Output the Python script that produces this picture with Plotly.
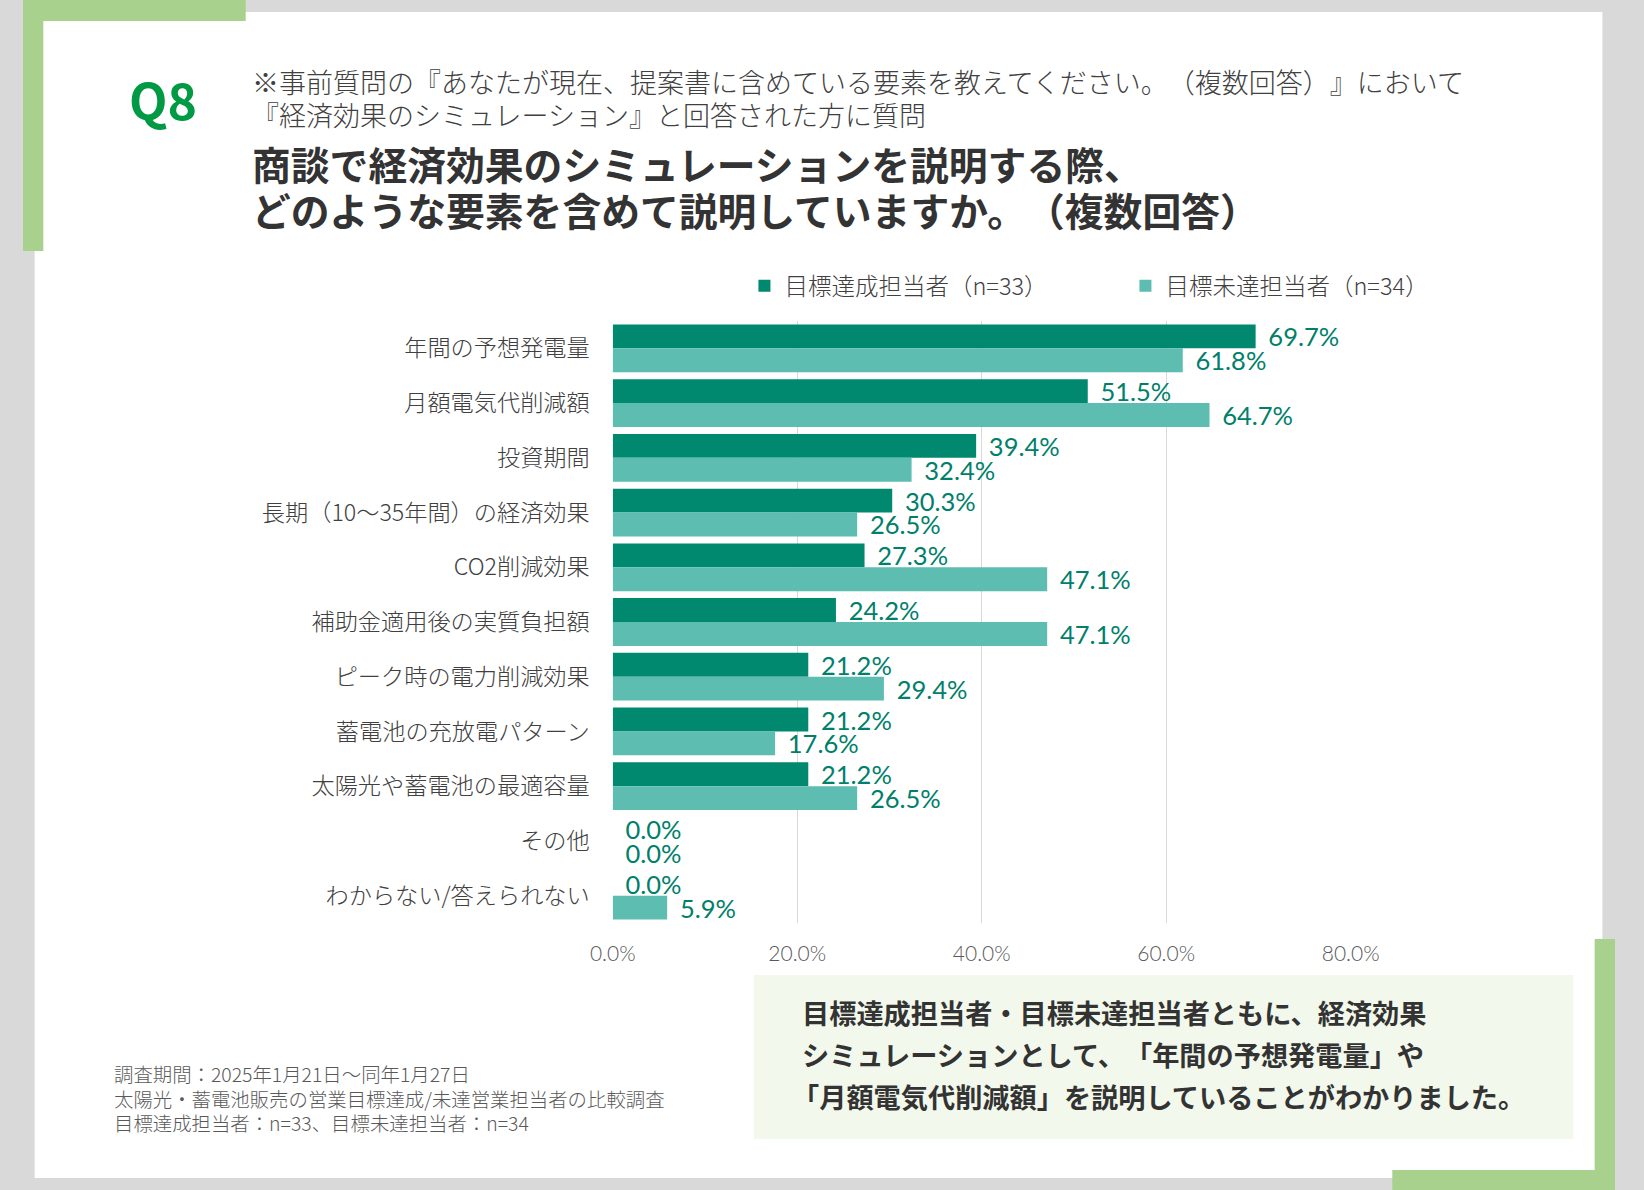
import plotly.graph_objects as go

W, H = 1644, 1190

categories = [
    "年間の予想発電量",
    "月額電気代削減額",
    "投資期間",
    "長期（10～35年間）の経済効果",
    "CO2削減効果",
    "補助金適用後の実質負担額",
    "ピーク時の電力削減効果",
    "蓄電池の充放電パターン",
    "太陽光や蓄電池の最適容量",
    "その他",
    "わからない/答えられない",
]
achieved = [69.7, 51.5, 39.4, 30.3, 27.3, 24.2, 21.2, 21.2, 21.2, 0.0, 0.0]
not_achieved = [61.8, 64.7, 32.4, 26.5, 47.1, 47.1, 29.4, 17.6, 26.5, 0.0, 5.9]
series_names = ["目標達成担当者（n=33）", "目標未達担当者（n=34）"]
tick_vals = [0, 20, 40, 60, 80]
tick_text = ["0.0%", "20.0%", "40.0%", "60.0%", "80.0%"]

title_lines = [
    "商談で経済効果のシミュレーションを説明する際、",
    "どのような要素を含めて説明していますか。（複数回答）",
]
sub_lines = [
    "※事前質問の『あなたが現在、提案書に含めている要素を教えてください。（複数回答）』において",
    "『経済効果のシミュレーション』と回答された方に質問",
]
summary_lines = [
    "目標達成担当者・目標未達担当者ともに、経済効果",
    "シミュレーションとして、「年間の予想発電量」や",
    "「月額電気代削減額」を説明していることがわかりました。",
]
foot_lines = [
    "調査期間：2025年1月21日～同年1月27日",
    "太陽光・蓄電池販売の営業目標達成/未達営業担当者の比較調査",
    "目標達成担当者：n=33、目標未達担当者：n=34",
]

DARK = "#00896f"
LIGHT = "#5dbdb1"
LABEL = "#00806a"
GREEN = "#a9d18e"
JP = "Noto Sans CJK JP"


def px(x):
    return x / W


def py(y):
    return 1 - y / H


fig = go.Figure()
for name, vals, col in [(series_names[0], achieved, DARK), (series_names[1], not_achieved, LIGHT)]:
    fig.add_trace(go.Bar(
        y=categories, x=vals, name=name, orientation="h",
        marker=dict(color=col, line=dict(width=0)),
        texttemplate="\u00a0\u2009%{x:.1f}%", textposition="outside",
        constraintext="none", cliponaxis=False,
        textfont=dict(family="Lato", size=25.5, color=LABEL),
        hoverinfo="skip",
    ))

shapes = []


def rect(x0, y0, x1, y1, color):
    shapes.append(dict(type="rect", xref="paper", yref="paper",
                       x0=px(x0), x1=px(x1), y0=py(y1), y1=py(y0),
                       fillcolor=color, line=dict(width=0), layer="below"))


rect(12, 12, 1631, 1178, "white")
rect(0, 0, 230, 21, GREEN)
rect(0, 0, 21, 251, GREEN)
rect(1623, 939, 1644, 1190, GREEN)
rect(1414, 1170, 1644, 1190, GREEN)
rect(755, 975, 1601, 1139, "#f2f8ec")

ann = []


def text(x, y, s, size, color, weight=400, family=JP, xanchor="left"):
    ann.append(dict(x=px(x), y=py(y), xref="paper", yref="paper", text=s,
                    showarrow=False, xanchor=xanchor, yanchor="middle",
                    align=("center" if xanchor == "center" else "left"),
                    font=dict(family=family, size=size, color=color, weight=weight)))


text(145, 98, "Q8", 50, "#009944", 700, xanchor="center")
text(234, 82, sub_lines[0], 27, "#404040", 300)
text(234, 115, sub_lines[1], 27, "#404040", 300)
text(234, 163, title_lines[0], 38.8, "#333333", 700)
text(234, 209, title_lines[1], 38.8, "#333333", 700)
text(802, 1012, summary_lines[0], 27.2, "#333333", 700)
text(802, 1054, summary_lines[1], 27.2, "#333333", 700)
text(792, 1096, summary_lines[2], 27.2, "#333333", 700)
for i, s in enumerate(foot_lines):
    text(92, 1073.5 + 24.5 * i, s, 19.4, "#595959", 300)

fig.update_layout(
    width=W, height=H,
    margin=dict(l=0, r=0, t=0, b=0),
    paper_bgcolor="#d9d9d9",
    plot_bgcolor="rgba(0,0,0,0)",
    barmode="group", bargap=0.127, bargroupgap=0,
    shapes=shapes, annotations=ann,
    showlegend=True,
    legend=dict(orientation="h", x=px(745), y=py(286), xanchor="left", yanchor="middle",
                font=dict(family=JP, size=23.5, color="#404040", weight=300),
                entrywidth=336, entrywidthmode="pixels", traceorder="normal",
                bgcolor="rgba(0,0,0,0)"),
    xaxis=dict(domain=[px(609), px(1371)], range=[0, 80], tickvals=tick_vals, ticktext=tick_text,
               showgrid=True, gridcolor="#d9d9d9", gridwidth=1, zeroline=False, showline=False,
               ticks="", ticklabelstandoff=16,
               tickfont=dict(family="Lato", size=21, color="#595959", weight=300), fixedrange=True),
    yaxis=dict(domain=[py(923), py(321)], autorange="reversed", showgrid=False, zeroline=False,
               showline=False, ticks="", ticklabelstandoff=22,
               tickfont=dict(family=JP, size=23.2, color="#404040", weight=300), fixedrange=True),
)

fig.write_html(
    "out.html",
    config={"displayModeBar": False},
    post_script="document.body.style.margin='0';document.body.style.overflow='hidden';"
                "document.body.style.textSpacingTrim='space-all';",
)
